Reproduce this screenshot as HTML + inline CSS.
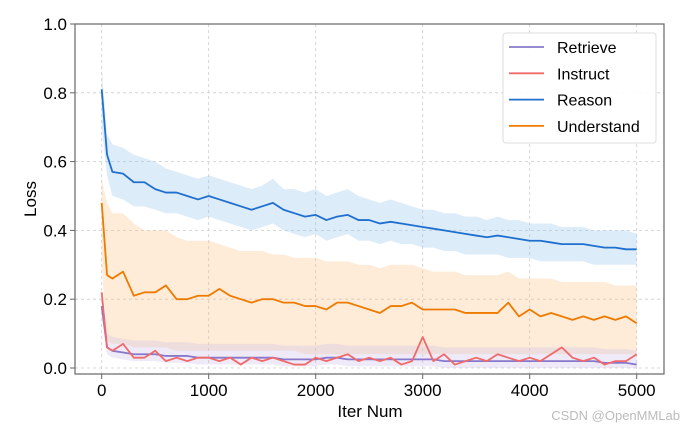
<!DOCTYPE html>
<html><head><meta charset="utf-8"><style>
body{margin:0;background:#fff;width:685px;height:434px;overflow:hidden;font-family:"Liberation Sans",sans-serif}
svg text{font-family:"Liberation Sans",sans-serif}
</style></head><body>
<svg id="chart" width="685" height="434" xmlns="http://www.w3.org/2000/svg">
<g id="grid"></g>
<g id="bands"></g>
<g id="lines"></g>
<rect x="75" y="24" width="589" height="350" fill="none" stroke="#666" stroke-width="1.2"/>
<g id="ticks"></g>
<text x="36" y="199" font-size="17" text-anchor="middle" transform="rotate(-90 36 199)">Loss</text>
<text x="370" y="417" font-size="17" text-anchor="middle">Iter Num</text>
<g>
<rect x="503" y="33" width="153" height="110" rx="3" fill="#fff" fill-opacity="0.9" stroke="#ddd"/>
<g id="legend-items"></g>
</g>
<text x="680" y="420" font-size="13" fill="#bbb" text-anchor="end">CSDN @OpenMMLab</text>
</svg>
<script>
const iters=[0,50,100,200,300,400,500,600,700,800,900,1000,1100,1200,1300,1400,1500,1600,1700,1800,1900,2000,2100,2200,2300,2400,2500,2600,2700,2800,2900,3000,3100,3200,3300,3400,3500,3600,3700,3800,3900,4000,4100,4200,4300,4400,4500,4600,4700,4800,4900,5000];
const reason=[0.81,0.62,0.57,0.565,0.54,0.54,0.52,0.51,0.51,0.50,0.49,0.50,0.49,0.48,0.47,0.46,0.47,0.48,0.46,0.45,0.44,0.445,0.43,0.44,0.445,0.43,0.43,0.42,0.425,0.42,0.415,0.41,0.405,0.40,0.395,0.39,0.385,0.38,0.385,0.38,0.375,0.37,0.37,0.365,0.36,0.36,0.36,0.355,0.35,0.35,0.345,0.345];
const understand=[0.48,0.27,0.26,0.28,0.21,0.22,0.22,0.24,0.20,0.20,0.21,0.21,0.23,0.21,0.20,0.19,0.20,0.20,0.19,0.19,0.18,0.18,0.17,0.19,0.19,0.18,0.17,0.16,0.18,0.18,0.19,0.17,0.17,0.17,0.17,0.16,0.16,0.16,0.16,0.19,0.15,0.17,0.15,0.16,0.15,0.14,0.15,0.14,0.15,0.14,0.15,0.13];
const instruct=[0.22,0.06,0.05,0.07,0.03,0.03,0.05,0.02,0.03,0.02,0.03,0.03,0.02,0.03,0.01,0.03,0.02,0.03,0.02,0.01,0.01,0.03,0.02,0.03,0.04,0.02,0.03,0.02,0.03,0.01,0.02,0.09,0.02,0.04,0.01,0.02,0.03,0.02,0.04,0.03,0.02,0.03,0.02,0.04,0.06,0.03,0.02,0.03,0.01,0.02,0.02,0.04];
const retrieve=[0.18,0.06,0.05,0.045,0.04,0.04,0.04,0.035,0.035,0.035,0.03,0.03,0.03,0.03,0.03,0.03,0.03,0.03,0.025,0.025,0.025,0.025,0.03,0.03,0.025,0.025,0.025,0.025,0.025,0.025,0.025,0.025,0.025,0.02,0.02,0.02,0.02,0.02,0.02,0.02,0.02,0.02,0.02,0.02,0.02,0.02,0.02,0.02,0.015,0.015,0.015,0.01];
const reasonHi=[0.87,0.68,0.65,0.64,0.62,0.61,0.60,0.58,0.57,0.56,0.55,0.56,0.55,0.54,0.53,0.52,0.53,0.55,0.52,0.52,0.51,0.52,0.50,0.51,0.52,0.50,0.49,0.48,0.49,0.48,0.47,0.46,0.46,0.45,0.45,0.44,0.44,0.43,0.44,0.43,0.43,0.42,0.42,0.42,0.41,0.41,0.41,0.40,0.40,0.40,0.40,0.39];
const reasonLo=[0.70,0.56,0.50,0.49,0.47,0.47,0.46,0.45,0.45,0.44,0.43,0.44,0.43,0.42,0.41,0.40,0.41,0.42,0.40,0.39,0.38,0.39,0.37,0.38,0.39,0.37,0.37,0.36,0.37,0.36,0.36,0.35,0.35,0.34,0.34,0.33,0.33,0.33,0.33,0.32,0.32,0.32,0.31,0.31,0.31,0.31,0.31,0.30,0.30,0.30,0.30,0.30];
const underHi=[0.55,0.48,0.45,0.45,0.42,0.40,0.40,0.40,0.38,0.37,0.37,0.37,0.36,0.35,0.34,0.34,0.34,0.33,0.33,0.32,0.32,0.32,0.31,0.31,0.31,0.30,0.30,0.29,0.30,0.30,0.30,0.29,0.28,0.28,0.28,0.27,0.27,0.27,0.27,0.28,0.26,0.26,0.26,0.26,0.25,0.25,0.25,0.25,0.25,0.24,0.24,0.24];
const underLo=[0.30,0.08,0.07,0.07,0.06,0.06,0.06,0.06,0.05,0.05,0.05,0.05,0.05,0.05,0.05,0.05,0.05,0.05,0.05,0.05,0.04,0.04,0.04,0.04,0.04,0.04,0.04,0.04,0.04,0.04,0.04,0.04,0.04,0.04,0.04,0.04,0.04,0.04,0.04,0.04,0.04,0.04,0.04,0.04,0.04,0.04,0.04,0.04,0.04,0.04,0.04,0.04];
const xTicks=[0,1000,2000,3000,4000,5000];
const yTicks=[0.0,0.2,0.4,0.6,0.8,1.0];
const NS="http://www.w3.org/2000/svg";
const X=v=>101.7+v*0.107, Y=v=>368-v*344;
function mk(tag,attrs,parent){const e=document.createElementNS(NS,tag);for(const k in attrs)e.setAttribute(k,attrs[k]);parent.appendChild(e);return e;}
const grid=document.getElementById('grid'),ticks=document.getElementById('ticks');
xTicks.forEach(t=>{
  const g=mk('line',{x1:X(t),x2:X(t),y1:24,y2:374,stroke:'#ccc','stroke-dasharray':'3,3','stroke-width':0.8},grid);
  
  
  mk('line',{x1:X(t),x2:X(t),y1:374,y2:379,stroke:'#666'},ticks);
  const tx=mk('text',{x:X(t),y:396,'font-size':17,'text-anchor':'middle'},ticks);tx.textContent=String(t);
  
  
});
yTicks.forEach(t=>{
  const g=mk('line',{x1:75,x2:664,y1:Y(t),y2:Y(t),stroke:'#ccc','stroke-dasharray':'3,3','stroke-width':0.8},grid);
  
  
  mk('line',{x1:70,x2:75,y1:Y(t),y2:Y(t),stroke:'#666'},ticks);
  const tx=mk('text',{x:67,y:Y(t)+6,'font-size':17,'text-anchor':'end'},ticks);tx.textContent=t.toFixed(1);
  
  
});
const bands=document.getElementById('bands'),lines=document.getElementById('lines');
function band(hi,lo,color,name){
  let d='M'+iters.map((it,i)=>X(it)+','+Y(hi[i])).join('L');
  d+='L'+iters.slice().reverse().map((it,j)=>X(it)+','+Y(lo[iters.length-1-j])).join('L')+'Z';
  const p=mk('path',{d:d,fill:color,'fill-opacity':0.3},bands);
  
  
}
band(underHi,underLo,'#fdbf80','understand-band');
band(reasonHi,reasonLo,'#8ec1ea','reason-band');
band(retrieve.map(v=>v+0.04),retrieve.map(v=>Math.max(0,v-0.02)),'#c9b8e8','retrieve-band');
function line(data,color,name){
  const p=mk('polyline',{points:iters.map((it,i)=>X(it)+','+Y(data[i])).join(' '),fill:'none',stroke:color,'stroke-width':1.8,'stroke-linejoin':'round'},lines);
  
  
}
line(retrieve,'#8878cc','retrieve-line');
line(instruct,'#f06a6a','instruct-line');
line(reason,'#1f6fcf','reason-line');
line(understand,'#ee7a00','understand-line');
const legendNames=['Retrieve','Instruct','Reason','Understand'];
const legendColors=['#8878cc','#f06a6a','#1f6fcf','#ee7a00'];
const li=document.getElementById('legend-items');
legendNames.forEach((n,i)=>{
  const y=47+i*26.3;
  const l=mk('line',{x1:509,x2:544,y1:y,y2:y,stroke:legendColors[i],'stroke-width':1.8},li);
  
  
  const t=mk('text',{x:557,y:y+6,'font-size':16},li);t.textContent=n;
  
  
});
</script>
</body></html>
